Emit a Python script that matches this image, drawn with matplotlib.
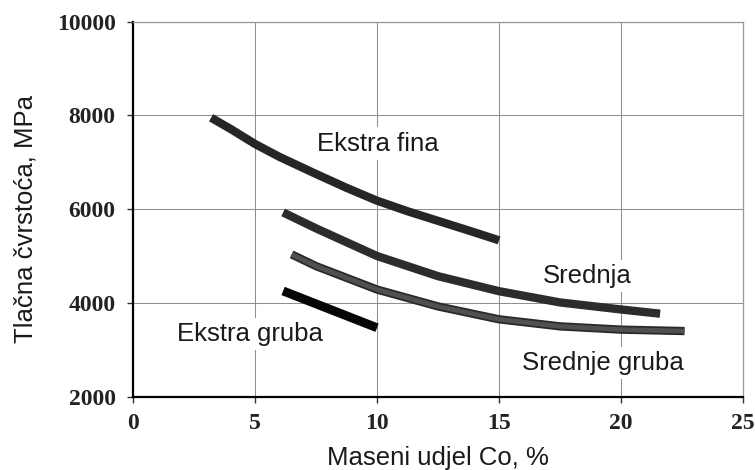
import matplotlib
matplotlib.use("Agg")
import matplotlib.pyplot as plt

# values (Co mass fraction %, compressive strength MPa)
ekstra_fina_x = [3.2, 4.0, 5.0, 6.0, 7.5, 8.75, 10.0, 11.25, 12.5, 13.75, 15.0]
ekstra_fina_y = [7950, 7710, 7390, 7115, 6750, 6455, 6180, 5955, 5750, 5545, 5335]

srednja_x = [6.15, 7.5, 10.0, 12.5, 15.0, 17.5, 20.0, 21.6]
srednja_y = [5930, 5590, 5000, 4570, 4250, 4010, 3860, 3770]

srednje_gruba_x = [6.5, 7.5, 10.0, 12.5, 15.0, 17.5, 20.0, 22.6]
srednje_gruba_y = [5035, 4785, 4285, 3925, 3650, 3500, 3430, 3400]

ekstra_gruba_x = [6.15, 10.0]
ekstra_gruba_y = [4255, 3470]

x_ticks = [0, 5, 10, 15, 20, 25]
y_ticks = [2000, 4000, 6000, 8000, 10000]

# label text and anchor (left edge, vertical centre)
labels = [
    ("Ekstra fina", 7.55, 7400),
    ("Srednja", 16.78, 4570),
    ("Srednje gruba", 15.93, 2715),
    ("Ekstra gruba", 1.8, 3330),
]

fig = plt.figure(figsize=(7.55, 4.7), dpi=100)
ax = fig.add_axes([0.1762, 0.156, 0.808, 0.798])

ax.set_xlim(0, 25)
ax.set_ylim(2000, 10000)
ax.set_xticks(x_ticks)
ax.set_yticks(y_ticks)

ax.grid(True, color="#8f8f8f", linewidth=0.75)
ax.set_axisbelow(True)

for side in ("top", "right"):
    ax.spines[side].set_color("#9a9a9a")
    ax.spines[side].set_linewidth(0.9)
for side in ("left", "bottom"):
    ax.spines[side].set_color("black")
    ax.spines[side].set_linewidth(1.6)

ax.tick_params(axis="both", direction="out", length=4, width=1, color="#333333")
ax.tick_params(axis="x", pad=8)
ax.tick_params(axis="y", pad=8.5)
for lbl in ax.get_xticklabels() + ax.get_yticklabels():
    lbl.set_fontfamily("Liberation Serif")
    lbl.set_fontsize(17)
    lbl.set_fontweight("bold")
    lbl.set_color("#222222")

line_kw = dict(solid_capstyle="butt", solid_joinstyle="round", zorder=4)
ax.plot(ekstra_fina_x, ekstra_fina_y, color="#262626", linewidth=6, **line_kw)
ax.plot(srednja_x, srednja_y, color="#2c2c2c", linewidth=6, **line_kw)
ax.plot(srednje_gruba_x, srednje_gruba_y, color="#2a2a2a", linewidth=6, **line_kw)
ax.plot(srednje_gruba_x, srednje_gruba_y, color="#505050", linewidth=3.4, **line_kw)
ax.plot(ekstra_gruba_x, ekstra_gruba_y, color="#060606", linewidth=6.4, **line_kw)

for text, tx, ty in labels:
    ax.text(tx, ty, text, fontfamily="Liberation Sans", fontsize=18.5,
            color="#1a1a1a", ha="left", va="center", zorder=3,
            bbox=dict(facecolor="white", edgecolor="none", pad=3))

ax.set_xlabel("Maseni udjel Co, %", fontfamily="Liberation Sans",
              fontsize=18.5, color="#1a1a1a")
ax.xaxis.set_label_coords(0.5, -0.163)
ax.xaxis.label.set_va("center")

ax.set_ylabel("Tlačna čvrstoća, MPa", fontfamily="Liberation Sans",
              fontsize=18.5, color="#1a1a1a")
ax.yaxis.set_label_coords(-0.177, 0.4725)
ax.yaxis.label.set_va("center")

fig.savefig("out.png", dpi=100)
